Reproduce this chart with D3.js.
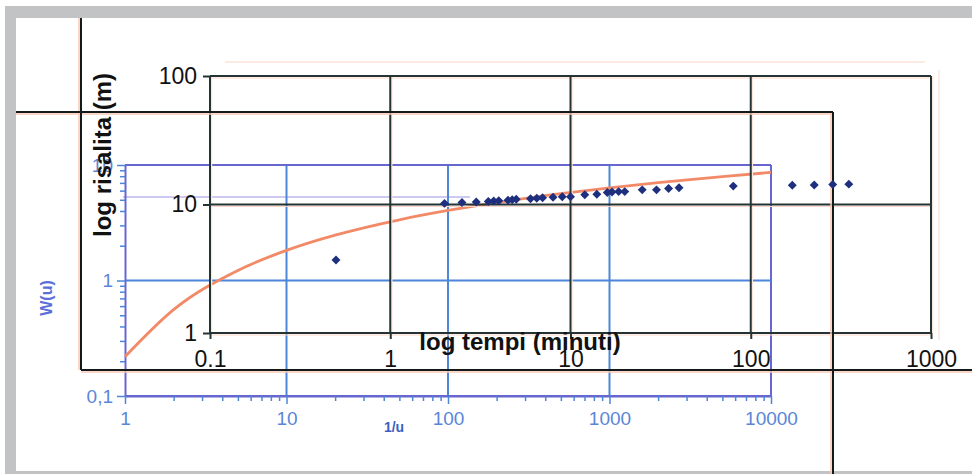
<!DOCTYPE html>
<html><head><meta charset="utf-8">
<script src="https://cdn.jsdelivr.net/npm/d3@7"></script>
<style>body{margin:0;background:#fff}svg{display:block}text{font-family:"Liberation Sans",Arial,sans-serif}</style>
</head><body>
<svg id="c" width="972" height="474"></svg>
<script>
// ---- data: measured recovery (black axes) ----
const timeMin  = [0.5, 2, 2.5, 3, 3.5, 3.75, 4, 4.5, 4.75, 5, 6, 6.5, 7, 8, 9, 10, 12, 14, 16, 17, 18.5, 20, 25, 30, 35, 40, 80, 170, 225, 285, 350];
const risalita = [3.7, 10.2, 10.35, 10.45, 10.55, 10.65, 10.7, 10.8, 10.9, 11.0, 11.1, 11.2, 11.3, 11.4, 11.5, 11.5, 11.9, 12.0, 12.4, 12.5, 12.6, 12.6, 13.0, 13.0, 13.3, 13.5, 13.9, 14.1, 14.2, 14.3, 14.4];
const timeTicks = [0.1, 1, 10, 100, 1000];
const timeTickLabels = ["0.1", "1", "10", "100", "1000"];
const risTicks = [1, 10, 100];
const risTickLabels = ["1", "10", "100"];
// ---- Theis type curve (blue axes) ----
const invU = [1, 2, 5, 10, 20, 50, 100, 200, 500, 1000, 2000, 5000, 10000];
const wu   = [0.219, 0.560, 1.223, 1.823, 2.468, 3.355, 4.038, 4.726, 5.639, 6.332, 7.024, 7.940, 8.633];
const invUTicks = [1, 10, 100, 1000, 10000];
const invUTickLabels = ["1", "10", "100", "1000", "10000"];
const wuTicks = [0.1, 1, 10];
const wuTickLabels = ["0,1", "1", "10"];

const svg = d3.select("#c");
const GRAY = "#c2c3c5", BLK = "#243434", BLUE = "#4d86d9", BFRAME = "#6767cf",
      BTXT = "#5b86d6", ORANGE = "#f28a68", HALO = "#f9c9b6", MARK = "#1e2f7e";

// gray page frame
svg.append("rect").attr("x", 5).attr("y", 6).attr("width", 967).attr("height", 12).attr("fill", GRAY);
svg.append("rect").attr("x", 5).attr("y", 6).attr("width", 11).attr("height", 468).attr("fill", GRAY);
svg.append("rect").attr("x", 5).attr("y", 471).attr("width", 967).attr("height", 3).attr("fill", GRAY);

// scales
const xT = d3.scaleLog().domain([0.1, 1000]).range([210, 931]);
const yS = d3.scaleLog().domain([1, 100]).range([333, 76]);
const xU = d3.scaleLog().domain([1, 10000]).range([125, 771]);
const yW = d3.scaleLog().domain([0.1, 10]).range([396, 165]);

// faint ghost lines
svg.append("line").attr("x1", 225).attr("x2", 925).attr("y1", 62).attr("y2", 62).attr("stroke", "#fce3d9").attr("stroke-width", 1.5);
svg.append("line").attr("x1", 123).attr("x2", 470).attr("y1", 197).attr("y2", 197).attr("stroke", "#bdb9ec").attr("stroke-width", 1.5);
svg.append("line").attr("x1", 939).attr("x2", 939).attr("y1", 70).attr("y2", 340).attr("stroke", "#fce6dd").attr("stroke-width", 1.5);

// ---- blue chart (W(u) vs 1/u) ----
const gB = svg.append("g");
gB.selectAll(".bv").data(invUTicks.slice(1)).join("line")
  .attr("x1", d => xU(d)).attr("x2", d => xU(d)).attr("y1", yW(10)).attr("y2", yW(0.1))
  .attr("stroke", d => d === 10000 ? BFRAME : BLUE).attr("stroke-width", 2);
gB.selectAll(".bh").data(wuTicks).join("line")
  .attr("x1", xU(1)).attr("x2", xU(10000)).attr("y1", d => yW(d)).attr("y2", d => yW(d))
  .attr("stroke", d => d === 1 ? BLUE : BFRAME).attr("stroke-width", 2);

const minorW = yW.ticks();
const axL = gB.append("g").attr("transform", `translate(${xU(1)},0)`)
  .call(d3.axisLeft(yW).tickValues(minorW).tickSizeInner(5).tickSizeOuter(0)
    .tickFormat(d => { const i = wuTicks.indexOf(d); return i >= 0 ? wuTickLabels[i] : ""; }));
axL.select(".domain").attr("stroke", BFRAME).attr("stroke-width", 2);
axL.selectAll(".tick line").attr("stroke", BLUE).attr("stroke-width", 1.5)
  .attr("x2", d => wuTicks.includes(d) ? -8 : -5);
axL.selectAll("text").attr("x", -12).attr("fill", BTXT).attr("font-size", 19).attr("font-family", "Liberation Sans");

const minorU = xU.ticks();
const axB = gB.append("g").attr("transform", `translate(0,${yW(0.1)})`)
  .call(d3.axisBottom(xU).tickValues(minorU).tickSizeInner(5).tickSizeOuter(0)
    .tickFormat(d => { const i = invUTicks.indexOf(d); return i >= 0 ? invUTickLabels[i] : ""; }));
axB.select(".domain").attr("stroke", BFRAME).attr("stroke-width", 2);
axB.selectAll(".tick line").attr("stroke", BLUE).attr("stroke-width", 1.5)
  .attr("y2", d => invUTicks.includes(d) ? 8 : 5);
axB.selectAll("text").attr("y", 15.5).attr("fill", BTXT).attr("font-size", 19).attr("font-family", "Liberation Sans");

svg.append("text").attr("x", 394).attr("y", 432).attr("text-anchor", "middle")
  .attr("font-size", 14).attr("font-weight", "bold").attr("fill", "#3c5fc4").text("1/u");
svg.append("text").attr("transform", "translate(52,298) rotate(-90)").attr("text-anchor", "middle")
  .attr("font-size", 16).attr("font-weight", "bold").attr("fill", "#5a6fd8").text("W(u)");

// Theis curve
const line = d3.line().x((d, i) => xU(invU[i])).y(d => yW(d)).curve(d3.curveMonotoneX);
svg.append("path").datum(wu).attr("d", line).attr("fill", "none")
  .attr("stroke", ORANGE).attr("stroke-width", 2.8);

// ---- black chart (risalita vs tempo) ----
const gK = svg.append("g");
gK.selectAll(".kvh").data(timeTicks).join("line")
  .attr("x1", d => xT(d) + 1.5).attr("x2", d => xT(d) + 1.5).attr("y1", yS(100)).attr("y2", yS(1))
  .attr("stroke", "#fde6dc").attr("stroke-width", 1.5);
gK.selectAll(".khh").data(risTicks).join("line")
  .attr("x1", xT(0.1)).attr("x2", xT(1000)).attr("y1", d => yS(d) + 2).attr("y2", d => yS(d) + 2)
  .attr("stroke", "#fcd8ca").attr("stroke-width", 1.2);
gK.selectAll(".kv").data(timeTicks).join("line")
  .attr("x1", d => xT(d)).attr("x2", d => xT(d)).attr("y1", yS(100)).attr("y2", yS(1))
  .attr("stroke", BLK).attr("stroke-width", 2);
gK.selectAll(".kh").data(risTicks).join("line")
  .attr("x1", xT(0.1)).attr("x2", xT(1000)).attr("y1", d => yS(d)).attr("y2", d => yS(d))
  .attr("stroke", BLK).attr("stroke-width", 2);

const axKL = gK.append("g").attr("transform", `translate(${xT(0.1)},0)`)
  .call(d3.axisLeft(yS).tickValues(risTicks).tickSize(7)
    .tickFormat(d => risTickLabels[risTicks.indexOf(d)]));
axKL.select(".domain").remove();
axKL.selectAll(".tick line").attr("stroke", BLK).attr("stroke-width", 2);
axKL.selectAll("text").attr("x", -13).attr("fill", "#111").attr("font-size", 23).attr("font-family", "Liberation Sans");

const axKB = gK.append("g").attr("transform", `translate(0,${yS(1)})`)
  .call(d3.axisBottom(xT).tickValues(timeTicks).tickSize(6)
    .tickFormat(d => timeTickLabels[timeTicks.indexOf(d)]));
axKB.select(".domain").remove();
axKB.selectAll(".tick line").attr("stroke", BLK).attr("stroke-width", 2);
axKB.selectAll("text").attr("y", 17.7).attr("fill", "#111").attr("font-size", 23).attr("font-family", "Liberation Sans");

// big black overlay frame lines with faint orange halo
const frame = [[81, 18, 81, 370], [16, 112, 833, 112], [833, 112, 833, 474], [81, 370, 972, 370]];
svg.selectAll(".fh").data(frame).join("line")
  .attr("x1", d => d[0] - (d[0] === d[2] ? 2 : 0)).attr("x2", d => d[2] - (d[0] === d[2] ? 2 : 0))
  .attr("y1", d => d[1] + (d[1] === d[3] ? 2 : 0)).attr("y2", d => d[3] + (d[1] === d[3] ? 2 : 0))
  .attr("stroke", HALO).attr("stroke-width", 1.5);
svg.selectAll(".fb").data(frame).join("line")
  .attr("x1", d => d[0]).attr("x2", d => d[2]).attr("y1", d => d[1]).attr("y2", d => d[3])
  .attr("stroke", "#141a1a").attr("stroke-width", 2);

// axis titles (black)
svg.append("text").attr("transform", "translate(111,155) rotate(-90)").attr("text-anchor", "middle")
  .attr("font-size", 24).attr("font-weight", "bold").attr("fill", "#111").text("log risalita (m)");
svg.append("text").attr("x", 520).attr("y", 350).attr("text-anchor", "middle")
  .attr("font-size", 24).attr("font-weight", "bold").attr("fill", "#111").text("log tempi (minuti)");

// data points
svg.selectAll(".pt").data(timeMin).join("path")
  .attr("d", d3.symbol().type(d3.symbolSquare).size(40))
  .attr("transform", (d, i) => `translate(${xT(d)},${yS(risalita[i])}) rotate(45)`)
  .attr("fill", MARK);
</script>
</body></html>
